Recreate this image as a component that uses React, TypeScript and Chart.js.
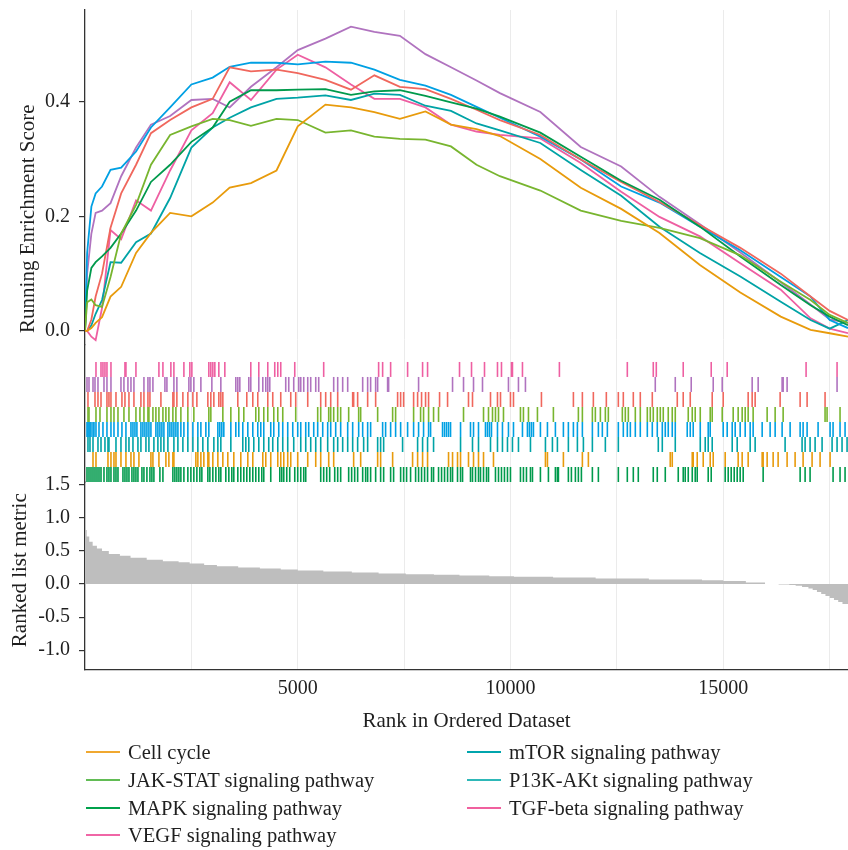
import React, { useEffect, useRef } from "react";
import { Chart, registerables } from "chart.js";

Chart.register(...registerables);

const FONT = "'Liberation Serif', 'DejaVu Serif', serif";
const TEXT = "#1f1f1f";
const AXIS = "#333333";

// ---- Running enrichment score curves (rank, score) ----
const ES_RANKS = [0, 50, 150, 250, 400, 600, 850, 1200, 1550, 2000, 2500, 3000, 3400, 3900, 4500, 5000, 5650, 6250, 6800, 7400, 8000, 8600, 9200, 9750, 10700, 11650, 12600, 13500, 14450, 15400, 16350, 17050, 17500, 17930];

const ES_ORANGE = [0, 0.0, 0.005, 0.014, 0.024, 0.06, 0.077, 0.136, 0.171, 0.206, 0.2, 0.224, 0.25, 0.258, 0.28, 0.357, 0.395, 0.39, 0.382, 0.37, 0.383, 0.36, 0.352, 0.34, 0.3, 0.25, 0.213, 0.171, 0.115, 0.067, 0.025, 0.002, -0.004, -0.01];
const ES_LIGHTGREEN = [0, 0.05, 0.055, 0.045, 0.042, 0.094, 0.17, 0.22, 0.29, 0.342, 0.357, 0.37, 0.368, 0.358, 0.37, 0.368, 0.346, 0.35, 0.339, 0.335, 0.334, 0.322, 0.29, 0.27, 0.245, 0.21, 0.192, 0.18, 0.162, 0.132, 0.086, 0.054, 0.028, 0.014];
const ES_DARKGREEN = [0, 0.07, 0.11, 0.12, 0.13, 0.145, 0.17, 0.21, 0.26, 0.29, 0.33, 0.355, 0.40, 0.42, 0.42, 0.421, 0.422, 0.412, 0.418, 0.42, 0.41, 0.399, 0.388, 0.374, 0.346, 0.304, 0.262, 0.229, 0.182, 0.13, 0.08, 0.045, 0.025, 0.01];
const ES_RED = [0, 0.0, 0.02, 0.06, 0.10, 0.18, 0.24, 0.29, 0.345, 0.368, 0.39, 0.405, 0.46, 0.453, 0.456, 0.45, 0.438, 0.421, 0.446, 0.426, 0.422, 0.405, 0.386, 0.368, 0.342, 0.299, 0.26, 0.225, 0.185, 0.145, 0.1, 0.06, 0.035, 0.019];
const ES_BLUE = [0, 0.136, 0.217, 0.24, 0.252, 0.281, 0.285, 0.313, 0.355, 0.39, 0.43, 0.442, 0.461, 0.468, 0.468, 0.465, 0.47, 0.468, 0.456, 0.438, 0.428, 0.412, 0.391, 0.372, 0.339, 0.299, 0.252, 0.224, 0.182, 0.141, 0.094, 0.06, 0.019, 0.005];
const ES_TEAL = [0, 0.0, 0.01, 0.03, 0.054, 0.12, 0.119, 0.155, 0.17, 0.232, 0.32, 0.355, 0.372, 0.39, 0.405, 0.407, 0.411, 0.403, 0.414, 0.412, 0.393, 0.384, 0.362, 0.35, 0.328, 0.281, 0.236, 0.182, 0.136, 0.095, 0.051, 0.019, 0.004, 0.019];
const ES_PURPLE = [0, 0.10, 0.17, 0.206, 0.21, 0.223, 0.27, 0.32, 0.36, 0.375, 0.403, 0.405, 0.39, 0.426, 0.46, 0.49, 0.51, 0.531, 0.522, 0.515, 0.483, 0.46, 0.437, 0.415, 0.382, 0.321, 0.287, 0.234, 0.186, 0.137, 0.085, 0.046, 0.02, 0.014];
const ES_PINK = [0, 0.0, -0.01, -0.016, 0.04, 0.176, 0.16, 0.228, 0.21, 0.28, 0.35, 0.38, 0.434, 0.403, 0.456, 0.482, 0.46, 0.43, 0.405, 0.405, 0.39, 0.36, 0.348, 0.342, 0.336, 0.293, 0.243, 0.199, 0.165, 0.118, 0.072, 0.022, 0.004, -0.004];

// ---- Gene-set hit positions (ranks) ----
const HITS_PINK = [258, 376, 422, 469, 516, 610, 939, 962, 1197, 1737, 1831, 2018, 2089, 2324, 2464, 2511, 2910, 2957, 3004, 3051, 3145, 3286, 3896, 4084, 4295, 4459, 4530, 4600, 4929, 5609, 6900, 6994, 7182, 7581, 7933, 8050, 8801, 9083, 9388, 9693, 9787, 10022, 10045, 10280, 11148, 12744, 13354, 13425, 14058, 14716, 15091, 16945, 17673];
const HITS_PURPLE = [47, 94, 188, 235, 305, 446, 516, 610, 845, 915, 1009, 1080, 1150, 1385, 1479, 1526, 1596, 1878, 1925, 2089, 2159, 2441, 2488, 2558, 2723, 2981, 3192, 3544, 3591, 3638, 3849, 3896, 4084, 4178, 4248, 4295, 4342, 4717, 4788, 4905, 5023, 5070, 5140, 5234, 5304, 5422, 5492, 5844, 5938, 6055, 6173, 6525, 6642, 6712, 6830, 6877, 7111, 7135, 7839, 8637, 8895, 9130, 9341, 9951, 10186, 10350, 13401, 13871, 14246, 14763, 14974, 15678, 15819, 16382, 16406, 16499, 17673];
const HITS_RED = [70, 235, 305, 376, 516, 563, 610, 728, 868, 939, 1033, 1150, 1314, 1385, 1479, 1526, 1784, 2065, 2089, 2159, 2300, 2417, 2535, 2629, 2887, 2957, 3028, 3145, 3192, 3239, 3591, 3802, 3943, 4060, 4295, 4412, 4600, 4835, 4952, 5234, 5539, 5656, 5774, 5938, 6290, 6313, 6407, 6642, 6830, 7346, 7417, 7487, 7722, 7816, 7909, 8003, 8074, 8332, 8520, 9012, 9106, 9529, 9693, 9764, 9998, 10069, 10726, 11477, 11688, 11946, 12251, 12533, 12650, 12885, 13049, 13331, 13918, 14058, 14223, 14739, 14997, 15584, 15678, 15748, 16335, 16805, 16969, 17391];
const HITS_LIGHTGREEN = [70, 94, 258, 352, 516, 610, 681, 775, 915, 1033, 1197, 1291, 1385, 1479, 1502, 1596, 1666, 1737, 1831, 1901, 1971, 2065, 2136, 2253, 2417, 2558, 2910, 2957, 3239, 3427, 3614, 3732, 4013, 4084, 4201, 4295, 4436, 4530, 4647, 4952, 5468, 5539, 5727, 5774, 5844, 5938, 6008, 6196, 6431, 6478, 6877, 7229, 7299, 7722, 7886, 7956, 8074, 8191, 8308, 8895, 9365, 9482, 9576, 9646, 9717, 9834, 10233, 10303, 10421, 10632, 11007, 11594, 11688, 11923, 11993, 12111, 12228, 12298, 12627, 12697, 12768, 12932, 13049, 13214, 13284, 13354, 13448, 13519, 13589, 13706, 13800, 13871, 14176, 14270, 14340, 14458, 14692, 14739, 14974, 15232, 15349, 15443, 15514, 15584, 15701, 16030, 16218, 16406, 17391, 17438, 17743];
const HITS_BLUE = [47, 70, 94, 117, 141, 188, 211, 258, 329, 422, 516, 610, 681, 775, 868, 962, 1080, 1127, 1174, 1220, 1314, 1361, 1408, 1455, 1502, 1549, 1666, 1713, 1760, 1807, 1854, 1948, 1995, 2042, 2089, 2136, 2183, 2253, 2324, 2417, 2535, 2652, 2723, 2840, 2910, 3122, 3168, 3215, 3262, 3427, 3544, 3614, 3708, 3826, 3943, 4060, 4131, 4201, 4365, 4436, 4553, 4647, 4764, 4882, 4999, 5070, 5187, 5257, 5375, 5468, 5586, 5703, 5774, 5891, 6008, 6173, 6290, 6431, 6525, 6642, 6712, 6994, 7064, 7182, 7299, 7417, 7581, 7722, 7839, 7956, 8074, 8121, 8402, 8449, 8496, 8543, 8590, 8825, 9059, 9130, 9247, 9411, 9458, 9505, 9552, 9693, 9810, 9951, 10069, 10280, 10397, 10444, 10491, 10538, 10702, 10867, 11054, 11242, 11359, 11477, 11571, 11688, 11923, 12064, 12157, 12275, 12533, 12650, 12744, 12815, 12932, 13049, 13214, 13331, 13448, 13566, 13636, 13706, 13800, 13871, 14152, 14223, 14293, 14458, 14645, 14692, 14997, 15091, 15209, 15279, 15396, 15514, 15631, 15701, 15913, 16100, 16218, 16382, 16570, 16805, 16875, 16969, 17227, 17509, 17579, 17743, 17861];
const HITS_TEAL = [70, 117, 188, 305, 376, 469, 540, 563, 728, 845, 962, 1033, 1127, 1244, 1314, 1432, 1502, 1619, 1713, 1784, 1854, 1948, 2089, 2183, 2300, 2417, 2535, 2652, 2769, 2887, 3028, 3122, 3192, 3427, 3708, 3779, 3849, 3966, 4084, 4201, 4318, 4412, 4530, 4647, 4764, 4905, 5070, 5187, 5304, 5422, 5539, 5703, 5844, 5938, 6055, 6173, 6290, 6407, 6548, 6642, 6877, 6947, 7018, 7463, 7816, 7933, 8050, 8191, 8825, 9106, 9247, 9529, 9693, 9810, 9928, 10045, 10186, 10468, 10820, 10984, 11101, 11359, 11571, 11712, 11923, 12228, 12533, 13472, 13566, 13871, 14458, 14575, 14645, 14739, 15209, 15326, 15631, 15748, 16452, 16851, 16922, 17039, 17157, 17321, 17556, 17673, 17790, 17908];
const HITS_ORANGE = [188, 258, 540, 610, 681, 728, 845, 962, 1080, 1150, 1267, 1549, 1596, 1737, 1901, 1971, 2065, 2089, 2605, 2652, 2723, 2793, 2887, 2910, 3004, 3122, 3239, 3356, 3497, 3661, 3826, 3943, 4178, 4248, 4365, 4530, 4600, 4671, 4764, 4835, 4999, 5234, 5422, 5539, 5727, 5844, 6313, 6478, 6877, 6947, 7229, 7698, 7816, 7933, 8050, 8543, 8637, 8754, 8825, 9012, 9130, 9247, 9365, 9599, 10820, 10867, 11242, 11688, 11829, 13753, 13800, 14270, 14293, 14387, 14528, 14692, 14763, 15044, 15349, 15443, 15584, 15913, 15936, 16030, 16171, 16288, 16499, 16687, 16875, 17086, 17274, 17509];
const HITS_DARKGREEN = [47, 94, 141, 188, 235, 282, 329, 376, 446, 516, 563, 610, 681, 728, 775, 892, 939, 986, 1033, 1103, 1150, 1197, 1244, 1338, 1385, 1455, 1526, 1572, 1619, 1760, 1831, 2065, 2112, 2159, 2206, 2253, 2324, 2417, 2488, 2558, 2629, 2699, 2746, 2887, 2934, 3004, 3075, 3145, 3192, 3309, 3380, 3450, 3497, 3591, 3661, 3732, 3802, 3873, 3943, 4013, 4084, 4154, 4201, 4365, 4577, 4624, 4671, 4741, 4811, 4929, 4999, 5070, 5140, 5187, 5539, 5609, 5680, 5750, 5868, 5938, 6008, 6196, 6266, 6337, 6407, 6525, 6595, 6642, 6712, 6830, 6947, 7018, 7182, 7252, 7417, 7487, 7557, 7651, 7769, 7839, 7909, 7980, 8050, 8144, 8191, 8308, 8379, 8449, 8520, 8590, 8637, 8754, 8825, 8872, 9059, 9106, 9177, 9247, 9294, 9365, 9435, 9482, 9646, 9717, 9787, 9857, 9928, 9998, 10233, 10303, 10374, 10468, 10515, 10702, 10890, 11054, 11101, 11125, 11359, 11430, 11524, 11594, 11665, 11923, 12064, 12533, 12744, 12885, 13002, 13354, 13448, 13636, 13941, 14058, 14105, 14176, 14270, 14340, 14387, 14645, 14716, 15044, 15115, 15185, 15256, 15326, 15396, 15467, 15936, 16805, 16922, 17039, 17579, 17743, 17861];

// ---- Ranked list metric (rank where a step starts, metric value) ----
const METRIC_RANKS = [0, 40, 100, 180, 280, 400, 560, 820, 1070, 1450, 1830, 2200, 2460, 2800, 3100, 3600, 4110, 4600, 5000, 5600, 6270, 6900, 7540, 8200, 8800, 9500, 10080, 11000, 12000, 13250, 14500, 15000, 15530, 15980, 16300, 16550, 16700, 16850, 17000, 17100, 17200, 17300, 17400, 17500, 17600, 17700, 17800, 17930];
const METRIC_VALUES = [0.95, 0.82, 0.72, 0.64, 0.58, 0.54, 0.5, 0.455, 0.43, 0.40, 0.37, 0.345, 0.33, 0.31, 0.29, 0.27, 0.25, 0.235, 0.22, 0.205, 0.19, 0.175, 0.16, 0.15, 0.14, 0.13, 0.12, 0.11, 0.10, 0.085, 0.07, 0.06, 0.045, 0.025, 0.0, -0.005, -0.012, -0.025, -0.045, -0.065, -0.09, -0.12, -0.15, -0.18, -0.21, -0.24, -0.27, -0.3];

// ---- Axis tick values ----
const X_TICKS = [0, 2500, 5000, 7500, 10000, 12500, 15000, 17500];
const X_LABELED = [5000, 10000, 15000];
const ES_TICKS = [0, 0.2, 0.4];
const METRIC_TICKS = [-1.0, -0.5, 0.0, 0.5, 1.0, 1.5];

// ---- Series styling ----
const SERIES = [
  { name: "Cell cycle", es: ES_ORANGE, hits: HITS_ORANGE, color: "#E89B0C", row: 1 },
  { name: "JAK-STAT signaling pathway", es: ES_LIGHTGREEN, hits: HITS_LIGHTGREEN, color: "#78B52F", row: 4 },
  { name: "MAPK signaling pathway", es: ES_DARKGREEN, hits: HITS_DARKGREEN, color: "#009A4C", row: 0 },
  { name: "Gene set (salmon)", es: ES_RED, hits: HITS_RED, color: "#F0675D", row: 5 },
  { name: "Gene set (blue)", es: ES_BLUE, hits: HITS_BLUE, color: "#00A0E3", row: 3 },
  { name: "mTOR signaling pathway", es: ES_TEAL, hits: HITS_TEAL, color: "#00A3A6", row: 2 },
  { name: "Gene set (purple)", es: ES_PURPLE, hits: HITS_PURPLE, color: "#B073BF", row: 6 },
  { name: "TGF-beta signaling pathway", es: ES_PINK, hits: HITS_PINK, color: "#EE5FA2", row: 7 },
];

const LEGEND_LABELS = [
  "Cell cycle",
  "JAK-STAT signaling pathway",
  "MAPK signaling pathway",
  "VEGF signaling pathway",
  "mTOR signaling pathway",
  "P13K-AKt signaling pathway",
  "TGF-beta signaling pathway",
];
const LEGEND_COLORS = ["#F0A830", "#62BC55", "#00A14B", "#F066A6", "#00A5AD", "#2EB8B8", "#F0609E"];

const yTitlesPlugin = {
  id: "yTitles",
  afterDraw(chart: any) {
    const c = chart.ctx;
    const items = [
      { text: "Running Enrichment Score", axis: "yES", value: 0.196, x: 28 },
      { text: "Ranked list metric", axis: "yRank", value: 0.21, x: 20 },
    ];
    for (const it of items) {
      const y = chart.scales[it.axis].getPixelForValue(it.value);
      c.save();
      c.translate(it.x, y);
      c.rotate(-Math.PI / 2);
      c.font = `21px ${FONT}`;
      c.fillStyle = TEXT;
      c.textAlign = "center";
      c.textBaseline = "middle";
      c.fillText(it.text, 0, 0);
      c.restore();
    }
  },
};

function fixWidth(s: any) {
  s.width = 85;
  s.paddingTop = 0;
  s.paddingBottom = 0;
  s.paddingLeft = 0;
  s.paddingRight = 0;
}

function setTicks(values: number[]) {
  return (s: any) => {
    s.ticks = values.map((v) => ({ value: v }));
  };
}

export default function App() {
  const ref = useRef<HTMLCanvasElement>(null);

  useEffect(() => {
    if (!ref.current) return;
    const datasets: any[] = [];

    SERIES.forEach((s) => {
      datasets.push({
        type: "scatter",
        label: s.name + " hits",
        data: s.hits.map((x) => ({ x, y: s.row + 0.5 })),
        yAxisID: "yRug",
        pointStyle: "line",
        rotation: 90,
        pointRadius: 7.5,
        pointBorderWidth: 1.6,
        pointBorderColor: s.color,
        pointBackgroundColor: s.color,
        showLine: false,
      });
    });

    SERIES.forEach((s) => {
      datasets.push({
        type: "line",
        label: s.name,
        data: ES_RANKS.map((x, i) => ({ x, y: s.es[i] })),
        yAxisID: "yES",
        borderColor: s.color,
        borderWidth: 1.8,
        pointRadius: 0,
        tension: 0,
        fill: false,
      });
    });

    datasets.push({
      type: "line",
      label: "Ranked list metric",
      data: METRIC_RANKS.map((x, i) => ({ x, y: METRIC_VALUES[i] })),
      yAxisID: "yRank",
      stepped: "after",
      borderWidth: 0,
      borderColor: "rgba(0,0,0,0)",
      backgroundColor: "#BEBEBE",
      pointRadius: 0,
      fill: "origin",
    });

    const tickFont = { family: FONT, size: 20 };
    const fmt1 = (v: any) => Number(v).toFixed(1);

    const chart = new Chart(ref.current, {
      type: "line",
      data: { datasets },
      options: {
        animation: false,
        responsive: false,
        events: [],
        layout: { padding: { top: 10, left: 0, right: 0, bottom: 0 }, autoPadding: false },
        plugins: { legend: { display: false }, tooltip: { enabled: false } },
        scales: {
          x: {
            type: "linear",
            position: "bottom",
            min: 0,
            max: 17930,
            afterBuildTicks: setTicks(X_TICKS),
            ticks: {
              autoSkip: false,
              maxRotation: 0,
              padding: 7,
              font: tickFont,
              color: TEXT,
              callback: (v: any) => (X_LABELED.includes(Number(v)) ? String(v) : ""),
            },
            grid: {
              drawTicks: false,
              lineWidth: 1,
              color: (ctx: any) => (ctx.tick && ctx.tick.value === 0 ? "rgba(0,0,0,0)" : "#EBEBEB"),
            },
            border: { display: true, color: AXIS, width: 1.3 },
            title: {
              display: true,
              text: "Rank in Ordered Dataset",
              font: { family: FONT, size: 21 },
              color: TEXT,
              padding: { top: 0, bottom: 6 },
            },
            afterFit: (s: any) => {
              s.height = 70;
              s.paddingLeft = 0;
              s.paddingRight = 0;
            },
          },
          yES: {
            type: "linear",
            position: "left",
            stack: "panels",
            stackWeight: 335,
            weight: 3,
            min: -0.0245,
            max: 0.56,
            afterBuildTicks: setTicks(ES_TICKS),
            ticks: { autoSkip: false, padding: 9, font: tickFont, color: TEXT, callback: fmt1 },
            grid: { drawOnChartArea: false, drawTicks: true, tickLength: 6, color: AXIS, lineWidth: 1.2 },
            border: { display: true, color: AXIS, width: 1.3 },
            afterFit: fixWidth,
          },
          yRug: {
            type: "linear",
            position: "left",
            stack: "panels",
            stackWeight: 137,
            weight: 2,
            min: 0,
            max: 9.13,
            ticks: { display: false },
            grid: { display: false },
            border: { display: true, color: AXIS, width: 1.3 },
            afterFit: fixWidth,
          },
          yRank: {
            type: "linear",
            position: "left",
            stack: "panels",
            stackWeight: 188,
            weight: 1,
            min: -1.3,
            max: 1.545,
            afterBuildTicks: setTicks(METRIC_TICKS),
            ticks: { autoSkip: false, padding: 9, font: tickFont, color: TEXT, callback: fmt1 },
            grid: { drawOnChartArea: false, drawTicks: true, tickLength: 6, color: AXIS, lineWidth: 1.2 },
            border: { display: true, color: AXIS, width: 1.3 },
            afterFit: fixWidth,
          },
        },
      } as any,
      plugins: [yTitlesPlugin],
    });

    return () => chart.destroy();
  }, []);

  const rowTop = [738, 766, 794, 821];
  const legendItem = (label: string, color: string, left: number, top: number) => (
    <div
      key={label}
      style={{
        position: "absolute",
        left,
        top,
        height: 28,
        display: "flex",
        alignItems: "center",
        fontFamily: FONT,
        fontSize: 20.5,
        color: TEXT,
        whiteSpace: "nowrap",
      }}
    >
      <span style={{ display: "inline-block", width: 34, height: 2, background: color, marginRight: 8 }} />
      <span>{label}</span>
    </div>
  );

  return (
    <div style={{ position: "absolute", left: 0, top: 0, width: 848, height: 850, background: "#ffffff", overflow: "hidden" }}>
      <canvas ref={ref} width={848} height={740} style={{ display: "block" }} />
      {LEGEND_LABELS.slice(0, 4).map((l, i) => legendItem(l, LEGEND_COLORS[i], 86, rowTop[i]))}
      {LEGEND_LABELS.slice(4).map((l, i) => legendItem(l, LEGEND_COLORS[i + 4], 467, rowTop[i]))}
    </div>
  );
}
